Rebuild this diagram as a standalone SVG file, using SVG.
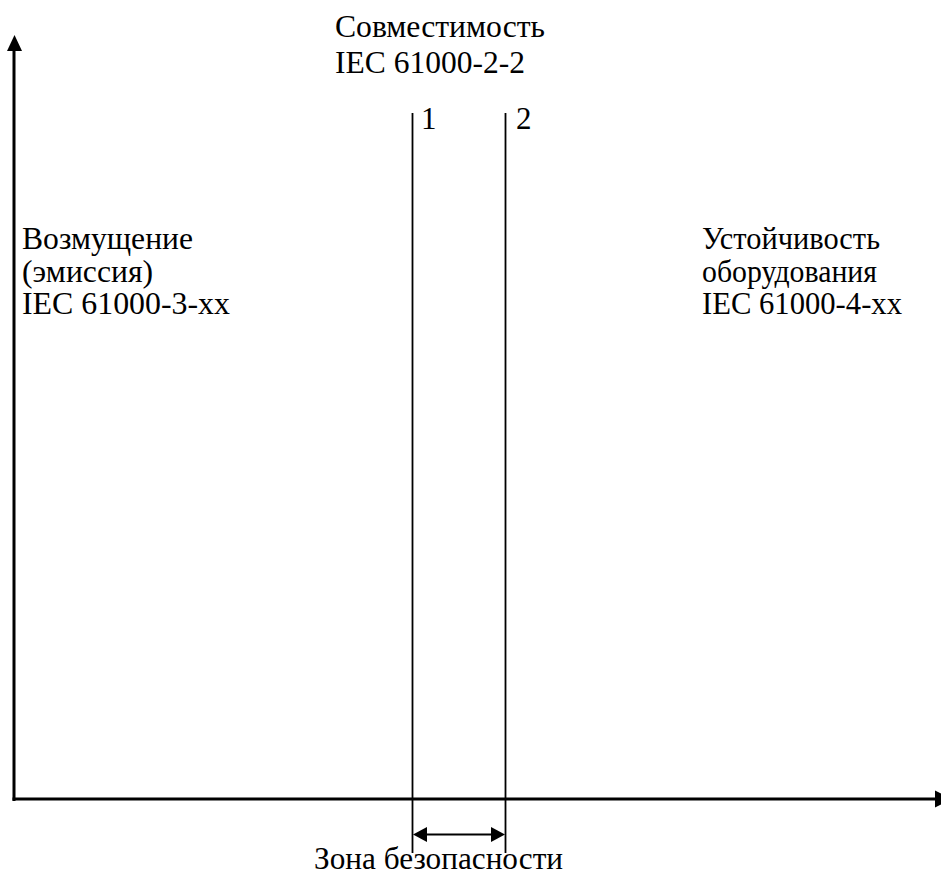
<svg xmlns="http://www.w3.org/2000/svg" width="941" height="875" viewBox="0 0 941 875">
<style>
text{font-family:"Times New Roman","Liberation Serif","DejaVu Serif",serif;font-size:31px;fill:#000}
.ax{stroke:#000;stroke-width:3;fill:none}
.ln{stroke:#000;stroke-width:1.8;fill:none}
.ah{fill:#000;stroke:none}
</style>
<rect width="941" height="875" fill="#fff"/>
<g id="connectors">
<line class="ax" x1="14" y1="801" x2="14" y2="50"/>
<polygon class="ah" points="14.5,35 7,51 22,51"/>
<line class="ax" x1="12.5" y1="799" x2="936" y2="799"/>
<polygon class="ah" points="935,790.5 935,807.5 952,799"/>
<line class="ln" x1="412.5" y1="113" x2="412.5" y2="853"/>
<line class="ln" x1="505.5" y1="113" x2="505.5" y2="853"/>
<line class="ln" x1="425" y1="834.5" x2="493" y2="834.5"/>
<polygon class="ah" points="413,834.5 427,827 427,842"/>
<polygon class="ah" points="505,834.5 491,827 491,842"/>
</g>
<g id="compat">
<text x="335" y="37" textLength="210" lengthAdjust="spacingAndGlyphs">Совместимость</text>
<text x="335" y="73" textLength="190" lengthAdjust="spacingAndGlyphs">IEC 61000-2-2</text>
</g>
<g id="label1"><text x="421" y="129">1</text></g>
<g id="label2"><text x="516" y="129">2</text></g>
<g id="emission">
<text x="22" y="249" textLength="171" lengthAdjust="spacingAndGlyphs">Возмущение</text>
<text x="22" y="282" textLength="131" lengthAdjust="spacingAndGlyphs">(эмиссия)</text>
<text x="22" y="314" textLength="208" lengthAdjust="spacingAndGlyphs">IEC 61000-3-xx</text>
</g>
<g id="immunity">
<text x="702" y="249" textLength="178" lengthAdjust="spacingAndGlyphs">Устойчивость</text>
<text x="702" y="282" textLength="175" lengthAdjust="spacingAndGlyphs">оборудования</text>
<text x="702" y="314" textLength="200" lengthAdjust="spacingAndGlyphs">IEC 61000-4-xx</text>
</g>
<g id="zone"><text x="314" y="869" textLength="249" lengthAdjust="spacingAndGlyphs">Зона безопасности</text></g>
</svg>
